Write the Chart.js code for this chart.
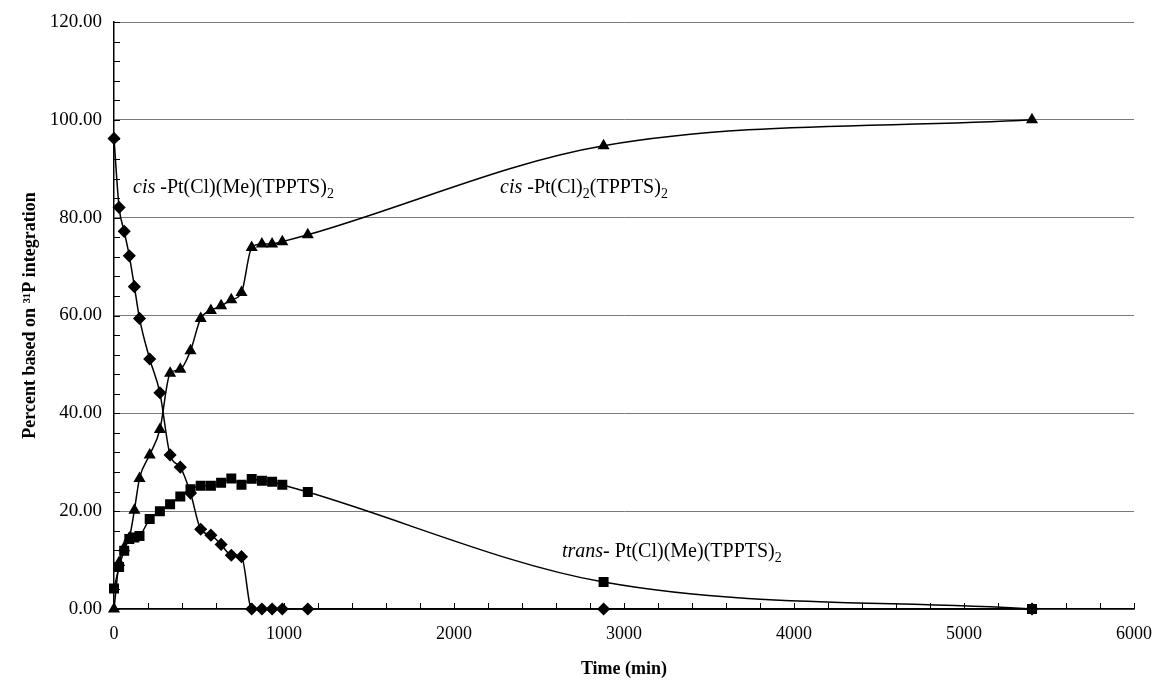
<!DOCTYPE html>
<html>
<head>
<meta charset="utf-8">
<script src="https://cdn.jsdelivr.net/npm/chart.js@4.4.1/dist/chart.umd.min.js"></script>
<style>
  html, body { margin: 0; padding: 0; background: #fff; }
  #wrap { width: 1158px; height: 684px; }
</style>
</head>
<body>
<div id="wrap"><canvas id="chart" width="1158" height="684"></canvas></div>
<script>
// time points (min)
const times = [0, 30, 60, 90, 120, 150, 210, 270, 330, 390, 450, 510, 570, 630, 690, 750, 810, 870, 930, 990, 1140, 2880, 5400];
// cis-Pt(Cl)(Me)(TPPTS)2
const cisMe = [96.2, 82.1, 77.2, 72.2, 65.9, 59.4, 51.1, 44.2, 31.5, 29.0, 23.7, 16.3, 15.1, 13.2, 11.0, 10.7, 0, 0, 0, 0, 0, 0, 0];
// trans-Pt(Cl)(Me)(TPPTS)2
const transMe = [4.2, 8.6, 11.9, 14.3, 14.6, 14.9, 18.4, 20.0, 21.4, 23.0, 24.5, 25.2, 25.2, 25.8, 26.7, 25.4, 26.6, 26.2, 26.0, 25.4, 23.9, 5.5, 0];
// cis-Pt(Cl)2(TPPTS)2
const cisCl2 = [0, 9.5, 12.5, 14.5, 20.2, 26.7, 31.5, 36.7, 48.2, 49.0, 52.8, 59.4, 61.0, 62.0, 63.2, 64.7, 73.9, 74.6, 74.6, 75.1, 76.5, 94.7, 100.0];

const serif = "'Liberation Serif', 'Times New Roman', serif";

function pts(vals) {
  return times.map((t, i) => ({ x: t, y: vals[i] }));
}

function series(vals, style, r) {
  return {
    data: pts(vals),
    borderColor: '#000',
    backgroundColor: '#000',
    borderWidth: 1.5,
    pointStyle: style,
    pointRadius: r,
    pointHoverRadius: r,
    cubicInterpolationMode: 'monotone',
    clip: false,
    fill: false
  };
}

// inside minor ticks + curve labels
const extras = {
  id: 'extras',
  afterDraw(chart) {
    const ctx = chart.ctx;
    const xs = chart.scales.x, ys = chart.scales.y;
    const area = chart.chartArea;
    ctx.save();
    ctx.strokeStyle = '#000';
    ctx.lineWidth = 1;
    ctx.beginPath();
    for (let v = 0; v <= 6000; v += 200) {
      const px = Math.round(xs.getPixelForValue(v)) + 0.5;
      ctx.moveTo(px, area.bottom);
      ctx.lineTo(px, area.bottom - 6);
    }
    for (let v = 0; v <= 120; v += 4) {
      const py = Math.round(ys.getPixelForValue(v)) + 0.5;
      ctx.moveTo(area.left, py);
      ctx.lineTo(area.left + 6, py);
    }
    ctx.stroke();

    // labels: pieces of [text, italic, subscript]
    function label(x, y, parts) {
      let cx = x;
      ctx.fillStyle = '#000';
      ctx.textBaseline = 'alphabetic';
      ctx.textAlign = 'left';
      parts.forEach(p => {
        const size = p[2] ? 14 : 20;
        ctx.font = (p[1] ? 'italic ' : '') + size + 'px ' + serif;
        ctx.fillText(p[0], cx, p[2] ? y + 5 : y);
        cx += ctx.measureText(p[0]).width;
      });
    }
    label(133, 193, [['cis', true], [' -Pt(Cl)(Me)(TPPTS)'], ['2', false, true]]);
    label(500, 193, [['cis', true], [' -Pt(Cl)'], ['2', false, true], ['(TPPTS)'], ['2', false, true]]);
    label(562, 557, [['trans-', true], [' Pt(Cl)(Me)(TPPTS)'], ['2', false, true]]);
    ctx.restore();
  }
};

new Chart(document.getElementById('chart'), {
  type: 'line',
  data: {
    datasets: [
      series(cisMe, 'rectRot', 5.5),
      series(transMe, 'rect', 6),
      series(cisCl2, 'triangle', 5.5)
    ]
  },
  options: {
    responsive: false,
    animation: false,
    layout: { padding: { left: 0, right: 24, top: 22, bottom: 0 } },
    plugins: { legend: { display: false }, tooltip: { enabled: false } },
    scales: {
      x: {
        type: 'linear',
        min: 0,
        max: 6000,
        afterFit: s => { s.height = 75; s.paddingRight = 0; s.paddingLeft = 0; },
        ticks: {
          stepSize: 1000,
          padding: 14,
          color: '#000',
          font: { family: serif, size: 18 },
          maxRotation: 0,
          callback: v => String(v)
        },
        grid: { display: true, drawOnChartArea: false, drawTicks: false, color: '#000' },
        border: { color: '#000', width: 1.5 },
        title: {
          display: true,
          text: 'Time (min)',
          color: '#000',
          font: { family: serif, size: 18, weight: 'bold' },
          padding: { top: 0, bottom: 4 }
        }
      },
      y: {
        min: 0,
        max: 120,
        afterFit: s => { s.width = 114; s.paddingTop = 0; s.paddingBottom = 0; },
        ticks: {
          stepSize: 20,
          padding: 12,
          color: '#000',
          font: { family: serif, size: 19 },
          callback: v => Number(v).toFixed(2)
        },
        grid: { color: '#7a7a7a', lineWidth: 1, drawTicks: false },
        border: { color: '#000', width: 1.5 },
        title: {
          display: true,
          text: 'Percent based on \u00B3\u00B9P integration',
          color: '#000',
          font: { family: serif, size: 18, weight: 'bold' },
          padding: { top: 20, bottom: 0 }
        }
      }
    }
  },
  plugins: [extras]
});
</script>
</body>
</html>
